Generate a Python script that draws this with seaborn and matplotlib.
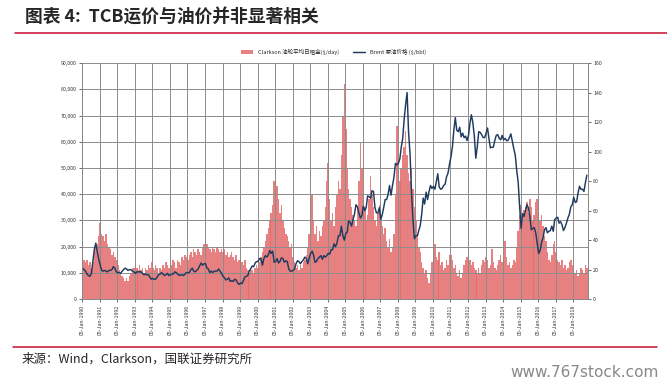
import numpy as np
import pandas as pd
import matplotlib
matplotlib.use("Agg")
import matplotlib.pyplot as plt
import seaborn as sns

# Clarkson tanker average earnings, monthly, $000/day, Jan-1990 .. Oct-2018
clarkson_k = [
    22, 15, 14, 15, 13, 14, 12, 14, 18, 20, 21, 24,      # 1990
    29, 25, 24, 22, 25, 21, 20, 19, 17, 18, 16, 15,      # 1991
    13, 11, 10, 9, 8, 7, 8, 7, 9, 10, 12, 12,            # 1992
    13, 12, 11, 13, 11, 12, 10, 12, 11, 13, 12, 14,      # 1993
    12, 11, 13, 12, 10, 12, 11, 13, 12, 14, 13, 12,      # 1994
    14, 13, 15, 14, 12, 15, 14, 13, 16, 15, 17, 16,      # 1995
    15, 17, 18, 16, 19, 18, 17, 19, 18, 17, 20, 21,      # 1996
    22, 21, 20, 19, 18, 20, 19, 18, 20, 19, 18, 19,      # 1997
    18, 19, 17, 18, 16, 17, 18, 16, 15, 17, 14, 15,      # 1998
    16, 14, 13, 15, 12, 11, 10, 12, 11, 10, 12, 13,      # 1999
    12, 14, 16, 18, 20, 22, 25, 27, 30, 33, 36, 45,      # 2000
    50, 43, 38, 33, 36, 30, 27, 25, 24, 22, 20, 21,      # 2001
    16, 14, 12, 13, 11, 13, 12, 14, 15, 17, 20, 25,      # 2002
    48, 40, 30, 25, 28, 22, 26, 24, 28, 30, 35, 45,      # 2003
    52, 38, 30, 33, 28, 35, 40, 45, 42, 55, 70, 82,      # 2004
    65, 50, 42, 38, 35, 32, 30, 28, 35, 45, 60, 50,      # 2005
    38, 35, 30, 32, 38, 47, 40, 35, 30, 28, 33, 36,      # 2006
    30, 28, 25, 27, 22, 20, 23, 18, 20, 25, 40, 66,      # 2007
    55, 45, 50, 55, 58, 64, 55, 48, 45, 50, 42, 35,      # 2008
    30, 25, 20, 18, 14, 12, 10, 11, 8, 6, 10, 14,        # 2009
    18, 21, 16, 15, 18, 13, 14, 11, 12, 15, 13, 17,      # 2010
    17, 15, 12, 13, 10, 9, 11, 8, 10, 13, 15, 16,        # 2011
    17, 15, 13, 14, 12, 11, 10, 12, 10, 13, 15, 14,      # 2012
    16, 15, 12, 13, 19, 14, 12, 11, 13, 15, 17, 14,      # 2013
    33, 22, 16, 13, 14, 12, 13, 15, 14, 20, 26, 32,      # 2014
    36, 30, 34, 35, 37, 33, 38, 35, 30, 32, 37, 38,      # 2015
    36, 30, 32, 28, 24, 22, 18, 15, 14, 17, 21, 22,      # 2016
    18, 15, 14, 13, 15, 12, 13, 11, 12, 14, 15, 13,      # 2017
    12, 10, 11, 9, 10, 12, 11, 10, 13, 12,               # 2018
]

# Brent crude, monthly, $/bbl
brent = [
    21, 20, 19, 17, 16, 15.5, 17.5, 26, 34, 38, 32, 27,
    23, 19.5, 19, 19.5, 19, 18.5, 19.5, 19.5, 20, 22, 21, 18.5,
    18, 18, 17.5, 19, 20, 21, 20.5, 19.5, 20, 20, 19, 18.5,
    17.5, 18.5, 18.5, 18.5, 18.5, 17.5, 16.5, 17, 16.5, 16.5, 15, 13.5,
    14, 13.5, 13.5, 15, 16.5, 17, 18, 17, 16, 16.5, 17.5, 16,
    16.5, 17, 17, 18.5, 18, 17, 16, 16.5, 16.5, 16, 17, 18,
    18, 18, 20, 21, 19, 18.5, 19.5, 20.5, 22.5, 24.5, 23, 24,
    24, 21, 20.5, 18, 19, 18, 19, 19, 19, 20.5, 19, 17.5,
    15.5, 14.5, 13, 13.5, 14.5, 12, 12.5, 12, 13.5, 13, 11, 10,
    11, 10.5, 12.5, 15, 15.5, 16, 19, 20.5, 22.5, 22, 24.5, 25.5,
    25.5, 27.5, 27.5, 23, 27.5, 29.5, 28.5, 30, 33, 31, 32.5, 25,
    25.5, 27.5, 24.5, 25.5, 28, 27.5, 25, 26, 25.5, 20.5, 19, 19,
    19.5, 20.5, 24, 26, 25.5, 24, 25.5, 26.5, 28.5, 27.5, 24, 28,
    31, 32.5, 30, 25, 25.5, 27.5, 28.5, 29.5, 27, 29.5, 28.5, 29.5,
    31, 30.5, 33.5, 33.5, 37.5, 35.5, 38, 43, 43, 49.5, 43, 40,
    44.5, 45.5, 53, 52, 49.5, 54, 57.5, 64, 62.5, 58.5, 55, 56.5,
    63, 60, 62, 70, 69.5, 68.5, 73.5, 73, 62, 58.5, 58.5, 62,
    54, 57.5, 62, 67.5, 67.5, 71, 77, 70.5, 77, 82.5, 92, 91,
    92, 95, 103, 109, 122, 132, 140, 113, 98, 72, 53, 41,
    43, 43, 46.5, 50, 57.5, 68.5, 64.5, 72.5, 67.5, 73, 77, 75,
    76.5, 74.5, 79.5, 85, 76, 74.5, 75, 77, 78, 83, 85.5, 91.5,
    96.5, 103.5, 114.5, 123, 114.5, 113.5, 116.5, 110, 112.5, 109.5, 110.5, 107.5,
    111, 119.5, 125, 119.5, 110.5, 95.5, 103, 113.5, 113, 111.5, 109.5, 109.5,
    112.5, 116, 109, 102.5, 103, 103, 107.5, 111, 111.5, 109, 108, 111,
    108, 109, 107.5, 107.5, 109.5, 112, 107, 102, 97.5, 87.5, 79, 62.5,
    48, 58, 56, 60, 64, 62, 56.5, 47, 48, 48.5, 45, 38,
    31, 33, 38.5, 41.5, 47, 48.5, 45, 46, 46.5, 49.5, 46, 54,
    55, 55.5, 51.5, 52.5, 50.5, 46.5, 48.5, 51.5, 55, 57.5, 62.5, 64,
    69, 65.5, 66, 72, 76.5, 74.5, 74.5, 73, 79, 84,
]

years = list(range(1990, 2019))
label_clarkson = "Clarkson 油轮平均日租金($/day)"
label_brent = "Brent 原油价格 ($/bbl)"

dates = pd.date_range("1990-01-01", periods=len(brent), freq="MS") + pd.Timedelta(days=14)
df = pd.DataFrame({"date": dates,
                   "clarkson": np.array(clarkson_k) * 1000,
                   "brent": brent})

sns.set_style("ticks")
plt.rcParams['font.family'] = ['Noto Sans CJK SC', 'DejaVu Sans']

fig = plt.figure(figsize=(6.67, 3.87), dpi=100)
ax = fig.add_axes([0.123, 0.227, 0.758, 0.61])
ax2 = ax.twinx()

ax.bar(df["date"], df["clarkson"], width=31, color="#e36b6b", alpha=0.85,
       linewidth=0, label=label_clarkson)
sns.lineplot(data=df, x="date", y="brent", ax=ax2, color="#1f3a5f", lw=1.05,
             label=label_brent, legend=False)

ax.set_ylim(0, 90000)
ax.set_yticks(range(0, 90001, 10000))
ax.set_yticklabels(["0"] + [f"{v:,}" for v in range(10000, 90001, 10000)])
ax2.set_ylim(0, 160)
ax2.set_yticks(range(0, 161, 20))

ticks = [pd.Timestamp(f"{y}-01-05") for y in years]
ax.set_xticks(ticks)
ax.set_xticklabels([f"05-Jan-{y}" for y in years], rotation=90)
ax.set_xlim(pd.Timestamp("1990-01-01"), pd.Timestamp("2018-10-31"))
ax2.set_xlim(ax.get_xlim())
ax.set_xlabel("")
ax2.set_ylabel("")
ax.set_ylabel("")

ax.grid(True, color="#8c8c8c", lw=0.7)
ax.set_axisbelow(False)
for a in (ax, ax2):
    a.tick_params(labelsize=3.8, length=2, width=0.5, colors="#333333", pad=2)
    for s in a.spines.values():
        s.set_color("#888888")
        s.set_linewidth(0.6)
    a.spines["top"].set_visible(False)

h1, l1 = ax.get_legend_handles_labels()
h2, l2 = ax2.get_legend_handles_labels()
fig.legend(h1 + h2, l1 + l2, loc="center", bbox_to_anchor=(0.5, 0.866), ncol=2,
           frameon=False, fontsize=4, handlelength=2.2, handleheight=0.6,
           columnspacing=2.5)

fig.text(0.037, 0.955, "图表 4:  TCB运价与油价并非显著相关", fontsize=12.8,
         fontweight="bold", style="italic", va="center", ha="left")
fig.add_artist(plt.Line2D([0.022, 1.0], [0.915, 0.915], color="#c8102e", lw=1.1))
fig.add_artist(plt.Line2D([0.02, 0.985], [0.104, 0.104], color="#c8102e", lw=1.1))
fig.text(0.033, 0.073, "来源：Wind，Clarkson，国联证券研究所", fontsize=9,
         va="center", ha="left")
fig.text(0.988, 0.037, "www.767stock.com", fontsize=11, color="#888888",
         va="center", ha="right", family=["DejaVu Sans"])

fig.savefig("out.png", dpi=100)
